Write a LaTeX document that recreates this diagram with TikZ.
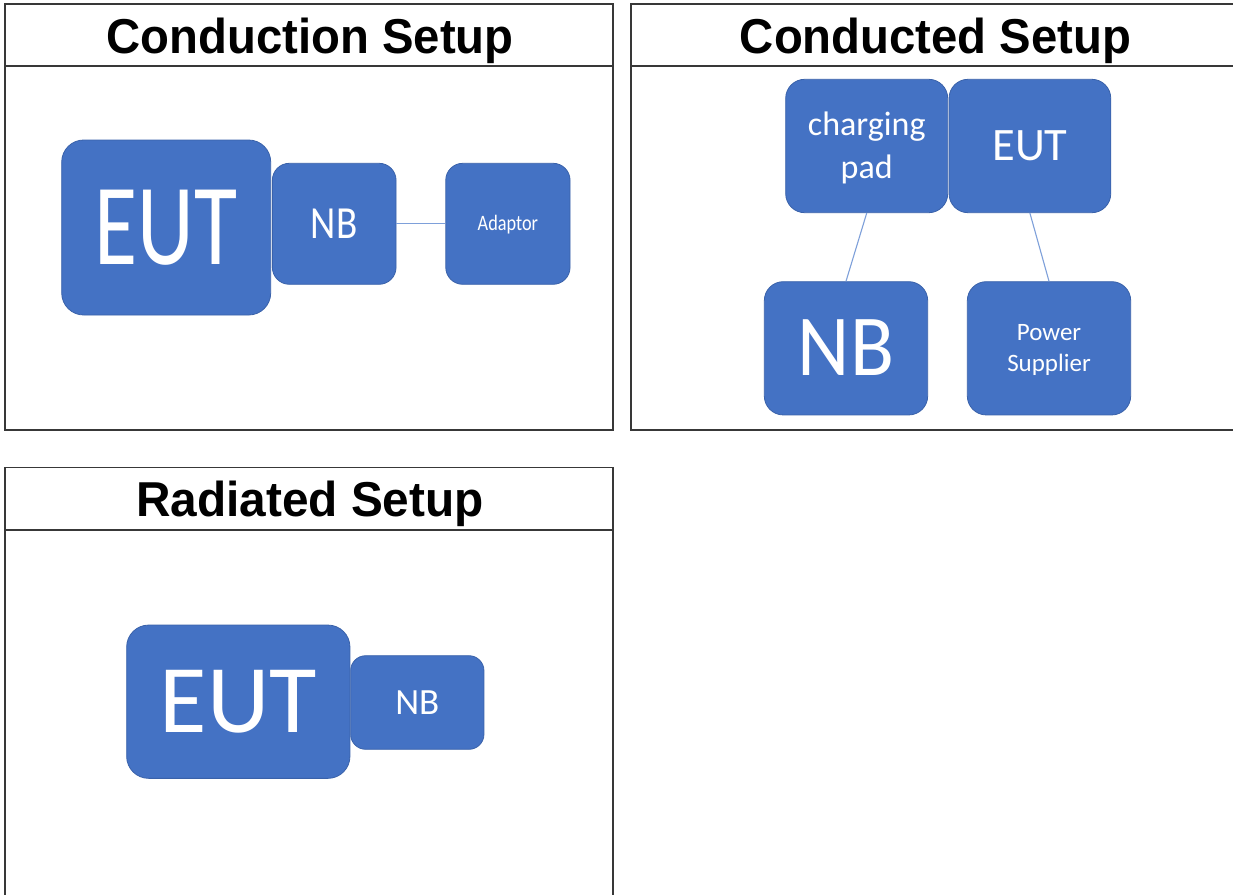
\documentclass[tikz,border=0pt]{standalone}
\usepackage{fontspec}
\usepackage{graphicx}
\setmainfont{Liberation Sans}
\newfontfamily\boxfont{Carlito}
\newcommand{\sqz}[2]{\scalebox{#1}[1]{#2}}
\newcommand{\fs}[1]{\fontsize{#1}{#1}\selectfont}
\definecolor{boxfill}{HTML}{4472C4}
\definecolor{boxedge}{HTML}{3A62AA}
\definecolor{wire}{HTML}{7EA0DA}
\definecolor{frame}{HTML}{383838}
\tikzset{
  box/.style={draw=boxedge, fill=boxfill, line width=0.8pt, inner sep=0pt,
    text=white, font=\boxfont, text depth=0pt},
  lbl/.style={text=white, font=\boxfont, inner sep=0pt, anchor=base},
  title/.style={font=\bfseries\fs{49}, anchor=base, inner sep=0pt},
  panel/.style={draw=frame, line width=1.3pt},
  wireline/.style={draw=wire, line width=1.1pt}
}
\begin{document}
\begin{tikzpicture}[x=1pt, y=-1pt]
\useasboundingbox (0,0) rectangle (1233,894);
\fill[white] (0,0) rectangle (1233,894);
% panels
\draw[panel] (5,4) rectangle (613,430);
\draw[panel] (5,66) -- (613,66);
\draw[panel] (631,4) rectangle (1240,430);
\draw[panel] (631,66) -- (1240,66);
\draw[panel] (5,467.5) rectangle (613,900);
\draw[panel] (5,530) -- (613,530);
\node[title] (t1) at (310,53.3) {\sqz{0.965}{Conduction Setup}};
\node[title] (t2) at (935.6,53.3) {\sqz{0.965}{Conducted Setup}};
\node[title] (t3) at (310,516.7) {\sqz{0.975}{Radiated Setup}};
% Conduction setup
\node[box, minimum width=209pt, minimum height=175pt, rounded corners=22pt, text height=73.3pt]
  (eut1) at (166.2,227.5) {\fs{116}\sqz{0.76}{EUT}};
\node[box, minimum width=123.7pt, minimum height=121pt, rounded corners=17pt, text height=29pt]
  (nb1) at (334.2,223.8) {\fs{46}\sqz{0.85}{NB}};
\node[box, minimum width=124.3pt, minimum height=121pt, rounded corners=17pt, text height=14pt]
  (ad1) at (507.9,223.8) {\fs{22}\sqz{0.83}{Adaptor}};
\draw[wireline] (nb1.east) -- (ad1.west);
% Conducted setup
\node[box, minimum width=162pt, minimum height=133.4pt, rounded corners=19pt]
  (cp) at (866.7,146) {};
\node[lbl] (cpa) at (866.7,135) {\fs{34}charging};
\node[lbl] (cpb) at (866.7,178) {\fs{34}pad};
\node[box, minimum width=161.7pt, minimum height=133.4pt, rounded corners=19pt, text height=29.4pt]
  (eut2) at (1029.9,146) {\fs{46.5}EUT};
\node[box, minimum width=163.4pt, minimum height=133.3pt, rounded corners=19pt, text height=55pt]
  (nb2) at (846,348.3) {\fs{87}\sqz{0.93}{NB}};
\node[box, minimum width=163.4pt, minimum height=133.3pt, rounded corners=19pt]
  (ps) at (1049,348.3) {};
\node[lbl] (psa) at (1049,340.7) {\fs{25}Power};
\node[lbl] (psb) at (1049,371.5) {\fs{25}Supplier};
\draw[wireline] (cp.south) -- (nb2.north);
\draw[wireline] (eut2.south) -- (ps.north);
% Radiated setup
\node[box, minimum width=223.3pt, minimum height=153.3pt, rounded corners=22pt, text height=61.3pt]
  (eut3) at (238.3,701.7) {\fs{97}EUT};
\node[box, minimum width=133.3pt, minimum height=93.6pt, rounded corners=15pt, text height=23.3pt]
  (nb3) at (417.3,702.5) {\fs{37}NB};
\end{tikzpicture}
\end{document}
